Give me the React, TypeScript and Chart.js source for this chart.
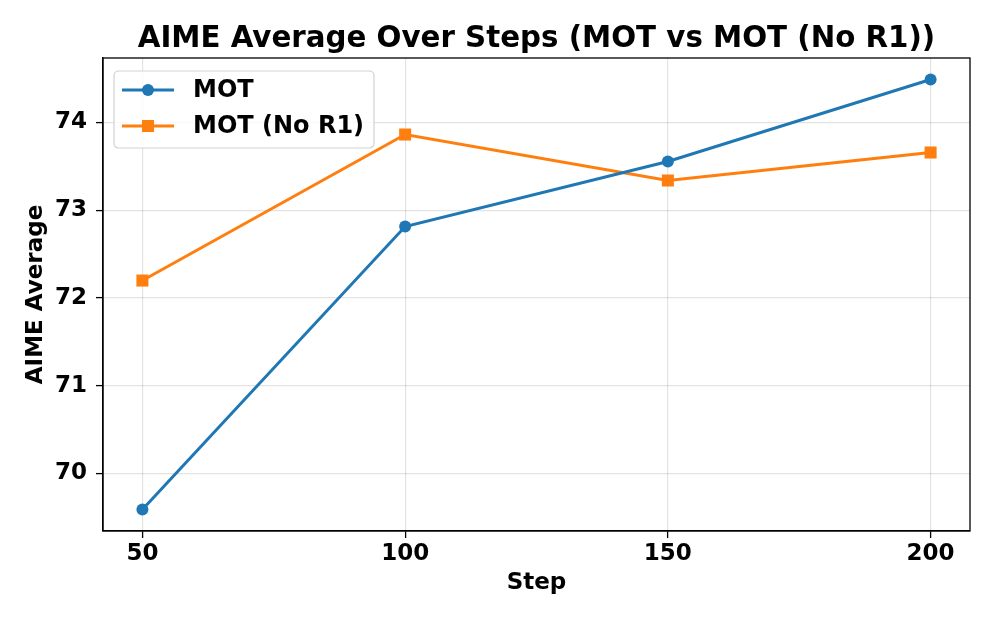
import React, { useEffect, useRef } from "react";
import { Chart, registerables } from "chart.js";

Chart.register(...registerables);

const steps = [50, 100, 150, 200];
const motValues = [69.59, 72.815, 73.556, 74.49];
const motNoR1Values = [72.199, 73.863, 73.339, 73.658];
const xTickValues = [50, 100, 150, 200];
const yTickValues = [70, 71, 72, 73, 74];
const seriesLabels = ["MOT", "MOT (No R1)"];
const chartTitle = "AIME Average Over Steps (MOT vs MOT (No R1))";
const xLabel = "Step";
const yLabel = "AIME Average";

const BLUE = "#1f77b4";
const ORANGE = "#ff7f0e";
const FONT = "'DejaVu Sans', sans-serif";

const framePlugin = {
  id: "frameAndExtras",
  afterDraw(chart: any) {
    const { ctx, chartArea } = chart;
    const { left, right, top, bottom } = chartArea;
    ctx.save();
    // spines
    ctx.strokeStyle = "#000";
    ctx.lineWidth = 1.3;
    ctx.strokeRect(left, top, right - left, bottom - top);

    // title
    ctx.fillStyle = "#000";
    ctx.font = `bold 29.3px ${FONT}`;
    ctx.textAlign = "center";
    ctx.textBaseline = "alphabetic";
    ctx.fillText(chartTitle, (left + right) / 2, 47);

    // legend
    const bx = 114, by = 71, bw = 260, bh = 77, r = 5;
    ctx.beginPath();
    ctx.moveTo(bx + r, by);
    ctx.lineTo(bx + bw - r, by);
    ctx.quadraticCurveTo(bx + bw, by, bx + bw, by + r);
    ctx.lineTo(bx + bw, by + bh - r);
    ctx.quadraticCurveTo(bx + bw, by + bh, bx + bw - r, by + bh);
    ctx.lineTo(bx + r, by + bh);
    ctx.quadraticCurveTo(bx, by + bh, bx, by + bh - r);
    ctx.lineTo(bx, by + r);
    ctx.quadraticCurveTo(bx, by, bx + r, by);
    ctx.closePath();
    ctx.fillStyle = "rgba(255,255,255,0.8)";
    ctx.fill();
    ctx.strokeStyle = "#d3d3d3";
    ctx.lineWidth = 1.2;
    ctx.stroke();

    const rows = [
      { y: 90, color: BLUE, style: "circle", label: seriesLabels[0] },
      { y: 126, color: ORANGE, style: "rect", label: seriesLabels[1] },
    ];
    rows.forEach((row) => {
      ctx.strokeStyle = row.color;
      ctx.lineWidth = 3;
      ctx.beginPath();
      ctx.moveTo(122, row.y);
      ctx.lineTo(174, row.y);
      ctx.stroke();
      ctx.fillStyle = row.color;
      if (row.style === "circle") {
        ctx.beginPath();
        ctx.arc(148, row.y, 6, 0, Math.PI * 2);
        ctx.fill();
      } else {
        ctx.fillRect(142, row.y - 6, 12, 12);
      }
      ctx.fillStyle = "#000";
      ctx.font = `bold 24px ${FONT}`;
      ctx.textAlign = "left";
      ctx.textBaseline = "middle";
      ctx.fillText(row.label, 193, row.y + 1);
    });
    ctx.restore();
  },
};

export default function App() {
  const ref = useRef<HTMLCanvasElement | null>(null);

  useEffect(() => {
    document.body.style.margin = "0";
    if (!ref.current) return;
    const chart = new Chart(ref.current, {
      type: "line",
      data: {
        datasets: [
          {
            label: seriesLabels[0],
            data: steps.map((s, i) => ({ x: s, y: motValues[i] })),
            borderColor: BLUE,
            backgroundColor: BLUE,
            borderWidth: 3,
            pointStyle: "circle",
            pointRadius: 6,
            pointBorderWidth: 0,
            tension: 0,
          },
          {
            label: seriesLabels[1],
            data: steps.map((s, i) => ({ x: s, y: motNoR1Values[i] })),
            borderColor: ORANGE,
            backgroundColor: ORANGE,
            borderWidth: 3,
            pointStyle: "rect",
            pointRadius: 8.5,
            pointBorderWidth: 0,
            tension: 0,
          },
        ],
      },
      options: {
        animation: false,
        responsive: false,
        devicePixelRatio: 1,
        layout: { padding: { left: 0, right: 27, top: 58, bottom: 0 } },
        plugins: {
          legend: { display: false },
          title: { display: false },
          tooltip: { enabled: false },
        },
        scales: {
          x: {
            type: "linear",
            min: 42.5,
            max: 207.5,
            afterBuildTicks: (s: any) => {
              s.ticks = xTickValues.map((v) => ({ value: v }));
            },
            afterFit: (s: any) => {
              s.height = 92;
            },
            grid: {
              color: "rgba(0,0,0,0.11)",
              tickColor: "#000",
              tickLength: 7,
              lineWidth: 1.2,
              tickWidth: 1.3,
            },
            border: { display: true, color: "#000", width: 1.3 },
            ticks: {
              color: "#000",
              font: { family: FONT, size: 23, weight: "bold" },
              padding: 2,
              maxRotation: 0,
            },
            title: {
              display: true,
              text: xLabel,
              color: "#000",
              font: { family: FONT, size: 23, weight: "bold" },
              padding: { top: 0, bottom: 26 },
            },
          },
          y: {
            type: "linear",
            min: 69.345,
            max: 74.735,
            afterBuildTicks: (s: any) => {
              s.ticks = yTickValues.map((v) => ({ value: v }));
            },
            afterFit: (s: any) => {
              s.width = 103;
            },
            grid: {
              color: "rgba(0,0,0,0.11)",
              tickColor: "#000",
              tickLength: 7,
              lineWidth: 1.2,
              tickWidth: 1.3,
            },
            border: { display: true, color: "#000", width: 1.3 },
            ticks: {
              color: "#000",
              font: { family: FONT, size: 23, weight: "bold" },
              padding: 9,
            },
            title: {
              display: true,
              text: yLabel,
              color: "#000",
              font: { family: FONT, size: 23, weight: "bold" },
              padding: { top: 22, bottom: 0 },
            },
          },
        },
      },
      plugins: [framePlugin],
    } as any);
    return () => chart.destroy();
  }, []);

  return (
    <div style={{ position: "absolute", left: 0, top: 0, width: 997, height: 623, background: "#fff" }}>
      <canvas ref={ref} width={997} height={623} style={{ width: 997, height: 623, display: "block" }} />
    </div>
  );
}
